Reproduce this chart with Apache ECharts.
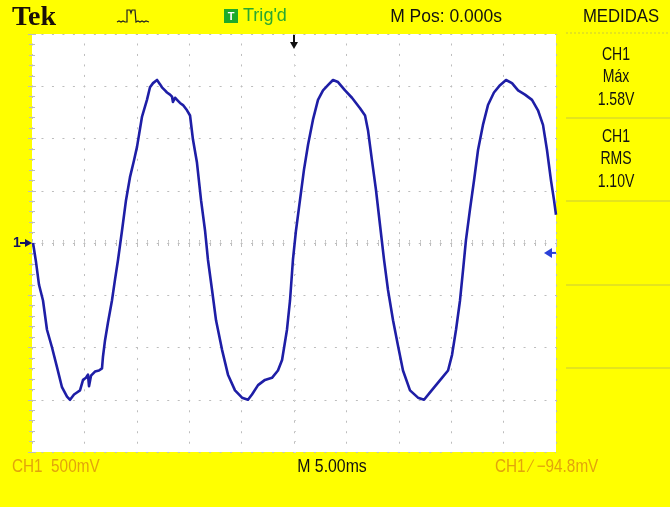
<!DOCTYPE html>
<html><head><meta charset="utf-8">
<script src="https://cdn.jsdelivr.net/npm/echarts@6/dist/echarts.min.js"></script>
<style>html,body{margin:0;padding:0;background:#ffff00}#c{width:670px;height:507px}</style>
</head><body><div id="c"></div>
<script>
// ---- data (time in ms, CH1 in volts) ----
const timeMs = [0.10,0.38,0.67,1.05,1.43,1.91,2.39,2.86,3.34,3.63,4.01,4.29,4.58,4.87,5.15,5.34,5.44,5.63,6.01,6.39,6.68,6.77,6.97,7.25,7.63,7.92,8.21,8.59,8.97,9.35,9.73,10.02,10.50,10.97,11.26,11.55,11.93,12.21,12.40,12.69,12.88,13.17,13.36,13.45,13.65,13.84,14.12,14.41,14.79,15.08,15.36,15.74,16.13,16.51,16.79,17.18,17.56,18.13,18.70,19.37,20.04,20.61,20.99,21.57,22.23,22.90,23.47,23.86,24.33,24.62,24.90,25.19,25.57,25.95,26.34,26.81,27.29,27.77,28.24,28.72,29.20,29.87,30.53,31.30,31.78,32.06,32.44,32.82,33.21,33.59,33.97,34.45,34.92,35.40,36.07,36.83,37.41,37.98,38.55,39.12,39.70,40.08,40.46,40.84,41.13,41.41,41.79,42.18,42.56,43.03,43.51,44.08,44.66,45.23,45.80,46.38,47.04,47.71,48.28,48.76,49.14,49.52,49.81,50.00];
const ch1Volts = [0.00,-0.18,-0.40,-0.55,-0.83,-1.00,-1.19,-1.38,-1.47,-1.50,-1.45,-1.43,-1.41,-1.31,-1.29,-1.26,-1.37,-1.27,-1.23,-1.22,-1.20,-1.09,-0.93,-0.76,-0.55,-0.35,-0.16,0.12,0.41,0.63,0.79,0.92,1.21,1.37,1.49,1.53,1.56,1.52,1.49,1.46,1.44,1.42,1.40,1.35,1.39,1.37,1.34,1.32,1.27,1.22,0.99,0.77,0.41,0.12,-0.16,-0.45,-0.74,-1.02,-1.26,-1.41,-1.48,-1.50,-1.45,-1.36,-1.31,-1.29,-1.22,-1.12,-0.83,-0.55,-0.16,0.12,0.41,0.70,0.94,1.18,1.37,1.46,1.51,1.56,1.54,1.46,1.39,1.29,1.22,1.08,0.79,0.51,0.17,-0.16,-0.45,-0.74,-0.98,-1.22,-1.41,-1.48,-1.50,-1.43,-1.36,-1.29,-1.22,-1.07,-0.83,-0.55,-0.26,0.03,0.32,0.60,0.89,1.13,1.32,1.44,1.51,1.56,1.53,1.46,1.42,1.37,1.27,1.13,0.89,0.60,0.41,0.27];
const triggerLevelV = -0.0948;
const triggerTimeMs = 25;
const headerTexts = ["Tek", "Trig'd", "M Pos: 0.000s", "MEDIDAS"];
const measure1 = ["CH1", "Máx", "1.58V"];
const measure2 = ["CH1", "RMS", "1.10V"];
const footerTexts = ["CH1  500mV", "M 5.00ms", "CH1 ∕ −94.8mV"];

// ---- chart ----
const chart = echarts.init(document.getElementById('c'), null, {renderer: 'canvas'});
const G = {left: 32, top: 34, width: 524, height: 418};
const gridGrey = '#bdbdbd';
const dots = {color: gridGrey, width: 1, type: [2, 8.48], dashOffset: 1};
function tickAxis(extra) {
  return Object.assign({
    type: 'value', axisLine: {show: false}, axisLabel: {show: false},
    axisTick: {show: true, inside: true, length: 4, lineStyle: {color: gridGrey}},
    minorTick: {show: true, splitNumber: 5, length: 3, lineStyle: {color: gridGrey}},
    splitLine: {show: false}
  }, extra);
}
const centerTick = {show: true, splitNumber: 5, length: 2, lineStyle: {color: '#d2d2d2'}};
const option = {
  backgroundColor: '#ffff00',
  animation: false,
  grid: [
    Object.assign({backgroundColor: '#ffffff', show: true, borderWidth: 0}, G),
    Object.assign({}, G)
  ],
  xAxis: [
    tickAxis({gridIndex: 0, position: 'bottom', min: 0, max: 50, interval: 5, splitLine: {show: true, lineStyle: dots}}),
    tickAxis({gridIndex: 0, position: 'top', min: 0, max: 50, interval: 5}),
    tickAxis({gridIndex: 1, min: -25, max: 25, interval: 5, axisLine: {show: false, onZero: true}, axisTick: {show: true, inside: true, length: 2, lineStyle: {color: '#d2d2d2'}}, minorTick: centerTick})
  ],
  yAxis: [
    tickAxis({gridIndex: 0, position: 'left', min: -2, max: 2, interval: 0.5, splitLine: {show: true, lineStyle: dots}}),
    tickAxis({gridIndex: 0, position: 'right', min: -2, max: 2, interval: 0.5}),
    tickAxis({gridIndex: 1, min: -2, max: 2, interval: 0.5, axisLine: {show: false, onZero: true}, axisTick: {show: true, inside: true, length: 2, lineStyle: {color: '#d2d2d2'}}, minorTick: centerTick})
  ],
  series: [{
    type: 'line', xAxisIndex: 0, yAxisIndex: 0,
    data: timeMs.map((t, i) => [t, ch1Volts[i]]),
    showSymbol: false, symbol: 'none',
    lineStyle: {color: '#1e1ea6', width: 2.6, join: 'round'}
  }]
};
chart.setOption(option);

function txt(s, x, y, o) {
  o = o || {};
  return {
    type: 'text', x: x, y: y, scaleX: o.sx || 1, z: 10,
    style: {
      text: s, font: o.font || '18px "Liberation Sans"', fill: o.fill || '#111',
      align: o.align || 'center', textAlign: o.align || 'center',
      verticalAlign: 'middle', textVerticalAlign: 'middle'
    }
  };
}
const gfx = [];
// header
gfx.push(txt(headerTexts[0], 12, 18, {font: 'bold 28px "Liberation Serif"', align: 'left', fill: '#1a1008'}));
gfx.push({type: 'polyline', z: 10, shape: {points: [[117,22],[119,21],[121,22],[123,21],[125,22],[127,22],[127,10],[130,10],[131,13],[132,10],[135,10],[136,22],[138,21],[140,22],[142,21],[144,22],[146,21],[149,22]]}, style: {stroke: '#222', lineWidth: 1.2, fill: null}});
gfx.push({type: 'rect', z: 10, shape: {x: 224, y: 9, width: 14, height: 14}, style: {fill: '#1faa2a'}});
gfx.push(txt('T', 231, 16.5, {font: 'bold 11px "Liberation Sans"', fill: '#ffffff'}));
gfx.push(txt(headerTexts[1], 243, 16, {font: '19px "Liberation Sans"', align: 'left', fill: '#2aa830', sx: 0.95}));
gfx.push(txt(headerTexts[2], 446, 17, {font: '19px "Liberation Sans"', sx: 0.92}));
gfx.push(txt(headerTexts[3], 621, 17, {font: '19px "Liberation Sans"', sx: 0.88}));
// right panel separators
const sepY = [118, 201, 285, 368];
sepY.forEach(function (y) {
  gfx.push({type: 'line', z: 5, shape: {x1: 566, y1: y, x2: 670, y2: y}, style: {stroke: '#c9c93a', lineWidth: 1}});
});
gfx.push({type: 'line', z: 5, shape: {x1: 566, y1: 33, x2: 670, y2: 33}, style: {stroke: '#c9c93a', lineWidth: 1, lineDash: [2, 2]}});
// measurements
const mY1 = [55, 77, 100], mY2 = [137, 159, 182];
measure1.forEach(function (s, i) { gfx.push(txt(s, 616, mY1[i], {font: '19px "Liberation Sans"', sx: 0.74})); });
measure2.forEach(function (s, i) { gfx.push(txt(s, 616, mY2[i], {font: '19px "Liberation Sans"', sx: 0.74})); });
// footer
gfx.push(txt(footerTexts[0], 12, 467, {font: '18px "Liberation Sans"', align: 'left', fill: '#e2a40c', sx: 0.85}));
gfx.push(txt(footerTexts[1], 332, 467, {font: '18px "Liberation Sans"', sx: 0.88}));
gfx.push(txt(footerTexts[2], 495, 467, {font: '18px "Liberation Sans"', align: 'left', fill: '#e2a40c', sx: 0.85}));
// markers from axis positions
const p0 = chart.convertToPixel({gridIndex: 0}, [0, 0]);
gfx.push(txt('1', 13, p0[1], {font: 'bold 14px "Liberation Sans"', align: 'left', fill: '#141460'}));
gfx.push({type: 'line', z: 10, shape: {x1: 20, y1: p0[1], x2: p0[0] - 3, y2: p0[1]}, style: {stroke: '#141460', lineWidth: 2}});
gfx.push({type: 'polygon', z: 10, shape: {points: [[p0[0], p0[1]], [p0[0] - 7, p0[1] - 4], [p0[0] - 7, p0[1] + 4]]}, style: {fill: '#141460'}});
const pT = chart.convertToPixel({gridIndex: 0}, [50, triggerLevelV]);
gfx.push({type: 'line', z: 10, shape: {x1: pT[0] - 5, y1: pT[1], x2: pT[0], y2: pT[1]}, style: {stroke: '#2a40d8', lineWidth: 2}});
gfx.push({type: 'polygon', z: 10, shape: {points: [[pT[0] - 12, pT[1]], [pT[0] - 4, pT[1] - 5], [pT[0] - 4, pT[1] + 5]]}, style: {fill: '#2a40d8'}});
const pP = chart.convertToPixel({gridIndex: 0}, [triggerTimeMs, 2]);
gfx.push({type: 'line', z: 10, shape: {x1: pP[0], y1: pP[1] + 1, x2: pP[0], y2: pP[1] + 10}, style: {stroke: '#111', lineWidth: 2}});
gfx.push({type: 'polygon', z: 10, shape: {points: [[pP[0], pP[1] + 15], [pP[0] - 4, pP[1] + 8], [pP[0] + 4, pP[1] + 8]]}, style: {fill: '#111'}});
chart.setOption({graphic: gfx});
</script></body></html>
